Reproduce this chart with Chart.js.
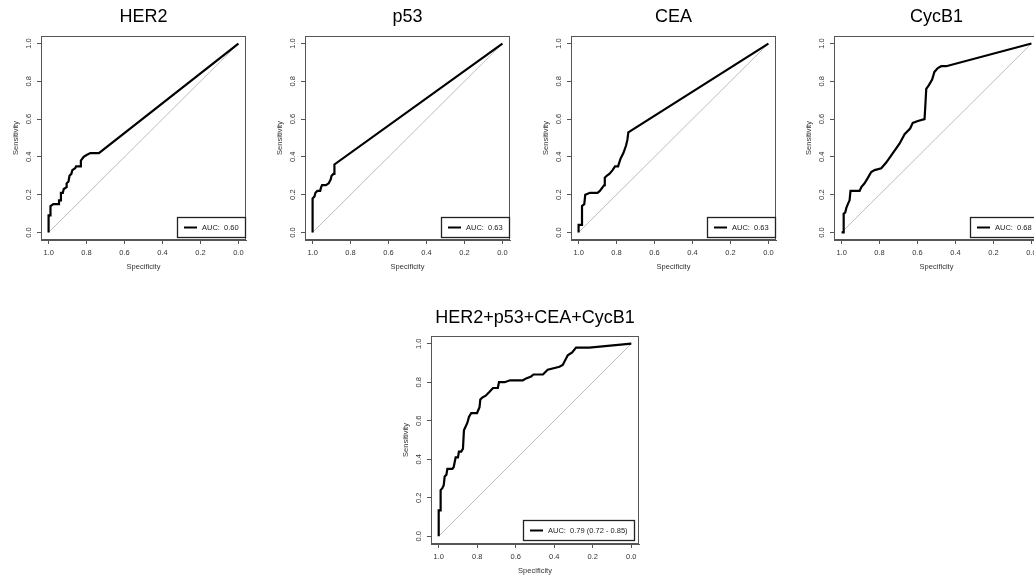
<!DOCTYPE html>
<html>
<head>
<meta charset="utf-8">
<script src="https://cdn.jsdelivr.net/npm/chart.js@4.4.1/dist/chart.umd.min.js"></script>
<style>
  body { margin: 0; background: #fff; width: 1034px; height: 578px; overflow: hidden; position: relative; }
  canvas { position: absolute; }
</style>
</head>
<body>
<canvas id="c1"></canvas>
<canvas id="c2"></canvas>
<canvas id="c3"></canvas>
<canvas id="c4"></canvas>
<canvas id="c5"></canvas>
<script>
// tick labels on both axes
const axisTicks = [0, 0.2, 0.4, 0.6, 0.8, 1.0];

const titles = ['HER2', 'p53', 'CEA', 'CycB1', 'HER2+p53+CEA+CycB1'];
const aucLabels = ['AUC:  0.60', 'AUC:  0.63', 'AUC:  0.63', 'AUC:  0.68', 'AUC:  0.79 (0.72 - 0.85)'];

// ROC curves (specificity, sensitivity)
const her2Spec = [1.0, 1.0, 0.99, 0.99, 0.975, 0.945, 0.945, 0.935, 0.935, 0.925, 0.92, 0.905, 0.905, 0.895, 0.89, 0.88, 0.875, 0.86, 0.855, 0.83, 0.83, 0.815, 0.80, 0.78, 0.735, 0.0];
const her2Sens = [0.0, 0.09, 0.09, 0.14, 0.15, 0.15, 0.17, 0.17, 0.21, 0.21, 0.23, 0.24, 0.26, 0.27, 0.30, 0.31, 0.33, 0.34, 0.35, 0.35, 0.38, 0.40, 0.41, 0.42, 0.42, 1.0];

const p53Spec = [1.0, 1.0, 0.99, 0.985, 0.975, 0.96, 0.955, 0.95, 0.93, 0.915, 0.905, 0.90, 0.89, 0.885, 0.885, 0.0];
const p53Sens = [0.0, 0.18, 0.19, 0.21, 0.22, 0.22, 0.24, 0.25, 0.25, 0.26, 0.28, 0.30, 0.31, 0.31, 0.36, 1.0];

const ceaSpec = [1.0, 1.0, 0.982, 0.982, 0.97, 0.965, 0.94, 0.90, 0.888, 0.873, 0.865, 0.862, 0.852, 0.838, 0.821, 0.808, 0.792, 0.779, 0.764, 0.75, 0.743, 0.738, 0.0];
const ceaSens = [0.0, 0.04, 0.04, 0.14, 0.15, 0.20, 0.21, 0.21, 0.22, 0.24, 0.25, 0.29, 0.30, 0.31, 0.33, 0.35, 0.35, 0.39, 0.42, 0.46, 0.49, 0.53, 1.0];

const cycSpec = [1.0, 0.989, 0.989, 0.981, 0.975, 0.967, 0.958, 0.953, 0.905, 0.896, 0.879, 0.861, 0.844, 0.826, 0.791, 0.765, 0.73, 0.695, 0.668, 0.639, 0.625, 0.598, 0.563, 0.56, 0.554, 0.54, 0.523, 0.511, 0.493, 0.475, 0.449, 0.0];
const cycSens = [0.0, 0.0, 0.10, 0.105, 0.13, 0.15, 0.17, 0.22, 0.22, 0.24, 0.26, 0.29, 0.32, 0.33, 0.34, 0.37, 0.42, 0.47, 0.52, 0.55, 0.58, 0.59, 0.60, 0.65, 0.76, 0.78, 0.81, 0.85, 0.87, 0.88, 0.88, 1.0];

const allSpec = [1.0, 1.0, 0.99, 0.99, 0.981, 0.974, 0.969, 0.96, 0.955, 0.929, 0.922, 0.912, 0.90, 0.895, 0.883, 0.874, 0.869, 0.86, 0.851, 0.843, 0.831, 0.801, 0.788, 0.784, 0.774, 0.756, 0.736, 0.718, 0.693, 0.687, 0.658, 0.629, 0.563, 0.546, 0.52, 0.508, 0.459, 0.434, 0.373, 0.356, 0.33, 0.307, 0.287, 0.218, 0.0];
const allSens = [0.0, 0.135, 0.135, 0.24, 0.25, 0.265, 0.31, 0.32, 0.35, 0.35, 0.36, 0.41, 0.41, 0.44, 0.44, 0.455, 0.55, 0.57, 0.59, 0.62, 0.64, 0.64, 0.67, 0.71, 0.72, 0.73, 0.75, 0.77, 0.77, 0.80, 0.80, 0.81, 0.81, 0.82, 0.83, 0.84, 0.84, 0.865, 0.88, 0.89, 0.94, 0.955, 0.98, 0.98, 1.0];

const curves = [[her2Spec, her2Sens], [p53Spec, p53Sens], [ceaSpec, ceaSens], [cycSpec, cycSens], [allSpec, allSens]];

// where each plot box sits on the page
const panels = [
  { id: 'c1', left: 41, top: 36, w: 205, h: 204, padT: 6, padB: 8.4, legR: 0, legB: 2 },
  { id: 'c2', left: 305, top: 36, w: 205, h: 204, padT: 6, padB: 8.4, legR: 0, legB: 2 },
  { id: 'c3', left: 571, top: 36, w: 205, h: 204, padT: 6, padB: 8.4, legR: 0, legB: 2 },
  { id: 'c4', left: 834, top: 36, w: 205, h: 204, padT: 6, padB: 8.4, legR: 0, legB: 2 },
  { id: 'c5', left: 431, top: 336, w: 208, h: 208, padT: 7.2, padB: 7.2, legR: 4, legB: 3 }
];

const FONT = "'Liberation Sans', Arial, sans-serif";
Chart.defaults.font.family = FONT;

// frame round the plot + legend at the bottom right
const rocDecor = {
  id: 'rocDecor',
  afterDraw(chart, args, opts) {
    const ctx = chart.ctx;
    const a = chart.chartArea;
    ctx.save();
    ctx.strokeStyle = '#555';
    ctx.lineWidth = 1;
    ctx.strokeRect(a.left + 0.5, a.top + 0.5, a.right - a.left - 1, a.bottom - a.top - 1);

    const text = chart.data.datasets[0].label;
    ctx.font = '7.5px ' + FONT;
    const tw = ctx.measureText(text).width;
    const bw = Math.round(25 + tw + 7), bh = 21;
    const x = Math.round(a.right - opts.right - bw), y = Math.round(a.bottom - opts.bottom - bh);
    ctx.fillStyle = '#fff';
    ctx.fillRect(x, y, bw, bh);
    ctx.strokeStyle = '#222';
    ctx.lineWidth = 1.3;
    ctx.strokeRect(x + 0.5, y + 0.5, bw - 1, bh - 1);
    ctx.beginPath();
    ctx.moveTo(x + 7, y + bh / 2);
    ctx.lineTo(x + 20, y + bh / 2);
    ctx.lineWidth = 2;
    ctx.strokeStyle = '#000';
    ctx.stroke();
    ctx.fillStyle = '#222';
    ctx.textBaseline = 'middle';
    ctx.fillText(text, x + 25, y + bh / 2 + 0.5);
    ctx.restore();
  }
};

function setTicks(axis) {
  axis.ticks = axisTicks.map(v => ({ value: v }));
}

panels.forEach((p, i) => {
  const cv = document.getElementById(p.id);
  const cw = p.w + 82, ch = 36 + p.h + 34;
  cv.width = cw; cv.height = ch;
  cv.style.left = (p.left - 41) + 'px';
  cv.style.top = (p.top - 36) + 'px';
  cv.style.width = cw + 'px';
  cv.style.height = ch + 'px';

  const [spec, sens] = curves[i];
  const pts = spec.map((s, k) => ({ x: s, y: sens[k] }));

  new Chart(cv, {
    type: 'scatter',
    data: {
      datasets: [
        { label: aucLabels[i], data: pts, showLine: true, borderColor: '#000', borderWidth: 2.2, pointRadius: 0, order: 1 },
        { label: 'ref', data: [{ x: 1, y: 0 }, { x: 0, y: 1 }], showLine: true, borderColor: '#bdbdbd', borderWidth: 1, pointRadius: 0, order: 2 }
      ]
    },
    options: {
      responsive: false,
      animation: false,
      devicePixelRatio: 1,
      layout: { padding: 0 },
      plugins: {
        legend: { display: false },
        tooltip: { enabled: false },
        title: {
          display: true, text: titles[i], color: '#000',
          font: { size: 18, weight: 'normal', family: FONT, lineHeight: 1.2 },
          padding: { top: p.padT, bottom: p.padB }
        },
        rocDecor: { right: p.legR, bottom: p.legB }
      },
      scales: {
        x: {
          type: 'linear', reverse: true, min: -0.04, max: 1.04,
          afterBuildTicks: setTicks,
          afterFit: s => { s.height = 34; },
          grid: { drawOnChartArea: false, drawTicks: true, tickLength: 4, color: '#555' },
          border: { display: true, color: '#555' },
          ticks: { color: '#333', font: { size: 7.5 }, padding: 4, maxRotation: 0, callback: v => v.toFixed(1) },
          title: { display: true, text: 'Specificity', color: '#333', font: { size: 7.5 }, padding: { top: 0, bottom: 3 } }
        },
        y: {
          type: 'linear', min: -0.04, max: 1.04,
          afterBuildTicks: setTicks,
          afterFit: s => { s.width = 41; },
          grid: { drawOnChartArea: false, drawTicks: true, tickLength: 4, color: '#555' },
          border: { display: true, color: '#555' },
          ticks: { color: '#333', font: { size: 7.5 }, padding: 2.5, minRotation: 90, maxRotation: 90, crossAlign: 'center', callback: v => v.toFixed(1) },
          title: { display: true, text: 'Sensitivity', color: '#333', font: { size: 7.5 }, padding: { top: 11.5, bottom: 0 } }
        },
        // empty right-hand margin so the title centres over the plot box
        yRight: {
          type: 'linear', position: 'right', min: -0.04, max: 1.04,
          afterFit: s => { s.width = 41; },
          grid: { display: false },
          border: { display: false },
          ticks: { display: false }
        }
      }
    },
    plugins: [rocDecor]
  });
});
</script>
</body>
</html>
